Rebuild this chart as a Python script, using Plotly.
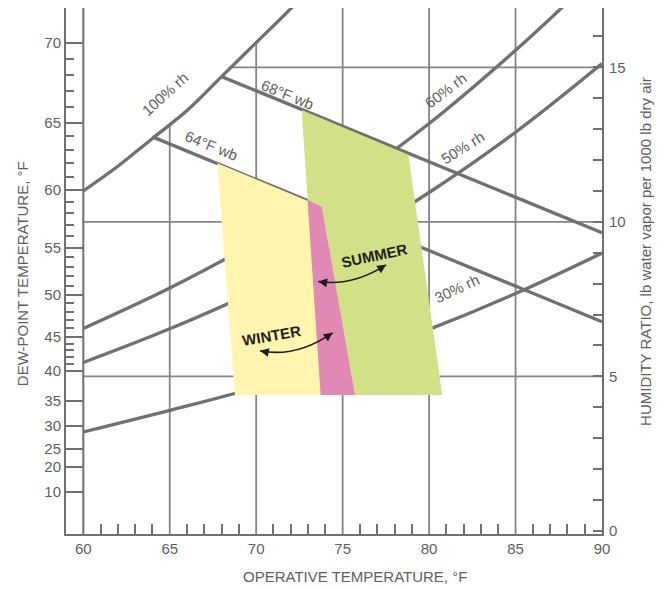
import plotly.graph_objects as go

# ---------------- data ----------------
# x: operative temperature (°F); y: humidity ratio (lb water vapor / 1000 lb dry air)
x_ticks = [60, 65, 70, 75, 80, 85, 90]
hr_ticks = [0, 5, 10, 15]

# dew-point scale (left) : label -> humidity ratio position
dp_labels = ["70", "65", "60", "55", "50", "45", "40", "35", "30", "25", "20", "10"]
dp_hr = [15.79, 13.20, 11.03, 9.16, 7.63, 6.28, 5.18, 4.20, 3.40, 2.65, 2.07, 1.26]

# relative humidity curves
rh100_t = [60, 62, 64, 66, 68, 70, 72, 74]
rh100_w = [11.0, 11.8, 12.7, 13.6, 14.7, 15.8, 16.9, 18.1]
rh60_t = [60, 65, 70, 75, 80, 85, 88]
rh60_w = [6.55, 7.86, 9.36, 11.12, 13.18, 15.55, 17.1]
rh50_t = [60, 65, 70, 75, 80, 85, 90]
rh50_w = [5.45, 6.54, 7.78, 9.24, 10.95, 12.9, 15.12]
rh30_t = [60, 65, 70, 75, 80, 85, 90]
rh30_w = [3.2, 3.9, 4.64, 5.51, 6.52, 7.68, 8.99]

# wet-bulb lines
wb64_t = [64, 90]
wb64_w = [12.75, 6.77]
wb68_t = [68, 90]
wb68_w = [14.7, 9.65]

# grid: vertical lines (top limited by saturation), horizontal lines
vgrid_t = [65, 70, 75, 80, 85]
vgrid_top = [13.2, 15.8, 17.0, 17.0, 17.0]
hgrid_w = [5, 10, 15]
hgrid_start = [60, 60, 68.4]

# comfort zones (operative temp, humidity ratio)
winter_t = [67.75, 73.79, 75.71, 68.77]
winter_w = [11.90, 10.49, 4.40, 4.40]
summer_t = [72.63, 78.80, 80.76, 73.73]
summer_w = [13.62, 12.17, 4.40, 4.40]
overlap_t = [72.97, 73.79, 75.71, 73.73]
overlap_w = [10.71, 10.49, 4.40, 4.40]

X_RANGE = [59.0, 90.0]
Y_RANGE = [-0.1, 16.92]

LINE = "#707072"
GRID = "#858585"
TXT = "#5e5e60"
FONT = "Liberation Sans, Arial, sans-serif"

fig = go.Figure()

# vertical grid lines
vx, vy = [], []
for t, top in zip(vgrid_t, vgrid_top):
    vx += [t, t, None]
    vy += [Y_RANGE[0], top, None]
fig.add_trace(go.Scatter(x=vx, y=vy, mode="lines", line=dict(color=GRID, width=1.8),
                         hoverinfo="skip", showlegend=False))
# horizontal grid lines
hx, hy = [], []
for w, s in zip(hgrid_w, hgrid_start):
    hx += [s, 90, None]
    hy += [w, w, None]
fig.add_trace(go.Scatter(x=hx, y=hy, mode="lines", line=dict(color=GRID, width=1.8),
                         hoverinfo="skip", showlegend=False))
# inner left line at 60 °F
fig.add_trace(go.Scatter(x=[60, 60], y=Y_RANGE, mode="lines", line=dict(color=LINE, width=2),
                         hoverinfo="skip", showlegend=False))

# rh curves
for t, w in [(rh100_t, rh100_w), (rh60_t, rh60_w), (rh50_t, rh50_w), (rh30_t, rh30_w)]:
    fig.add_trace(go.Scatter(x=t, y=w, mode="lines", line=dict(color=LINE, width=3.3, shape="spline"),
                             hoverinfo="skip", showlegend=False))
# wet-bulb lines
for t, w in [(wb64_t, wb64_w), (wb68_t, wb68_w)]:
    fig.add_trace(go.Scatter(x=t, y=w, mode="lines", line=dict(color=LINE, width=3.3),
                             hoverinfo="skip", showlegend=False))

# comfort zones
for t, w, c in [(winter_t, winter_w, "#FFF5AE"), (summer_t, summer_w, "#D2E188"),
                (overlap_t, overlap_w, "#DF89B4")]:
    fig.add_trace(go.Scatter(x=t + [t[0]], y=w + [w[0]], mode="lines", fill="toself",
                             fillcolor=c, line=dict(width=0, color=c),
                             hoverinfo="skip", showlegend=False))

# dummy trace for right axis
fig.add_trace(go.Scatter(x=[X_RANGE[0]], y=[0], yaxis="y2", mode="markers",
                         marker=dict(opacity=0), hoverinfo="skip", showlegend=False))

# curve labels
labels = [
    ("100% rh", 64.75, 14.15, -42),
    ("64°F wb", 67.4, 12.48, 22),
    ("68°F wb", 71.8, 14.12, 22),
    ("60% rh", 80.95, 14.25, -37),
    ("50% rh", 81.95, 12.4, -32),
    ("30% rh", 81.6, 7.85, -25),
]
for txt, x, y, ang in labels:
    fig.add_annotation(x=x, y=y, text=txt, showarrow=False, textangle=ang,
                       font=dict(family=FONT, size=15, color=TXT))

# season labels
fig.add_annotation(x=76.87, y=8.9, text="<b>SUMMER</b>", showarrow=False, textangle=-12,
                   font=dict(family=FONT, size=15, color="#1e1e1e"))
fig.add_annotation(x=70.91, y=6.31, text="<b>WINTER</b>", showarrow=False, textangle=-10,
                   font=dict(family=FONT, size=15, color="#1e1e1e"))

# curved double-headed arrows
arrows = [
    ((73.59, 8.07), (75.53, 7.90), (77.51, 8.61), (8, 1.2), (-6.8, 4.3)),
    ((70.22, 5.83), (72.28, 5.59), (74.42, 6.41), (8, 1.7), (-6.6, 4.6)),
]
for p0, c, p2, a0, a2 in arrows:
    fig.add_shape(type="path", xref="x", yref="y",
                  path=f"M {p0[0]},{p0[1]} Q {c[0]},{c[1]} {p2[0]},{p2[1]}",
                  line=dict(color="#1e1e1e", width=1.6))
    for p, a in [(p0, a0), (p2, a2)]:
        fig.add_annotation(x=p[0], y=p[1], ax=a[0], ay=a[1], text="", showarrow=True,
                           arrowhead=2, arrowsize=1.1, arrowwidth=1.6, arrowcolor="#1e1e1e",
                           standoff=0)

# axis titles
fig.add_annotation(xref="paper", yref="paper", x=-0.082, y=0.494, text="DEW-POINT TEMPERATURE, °F",
                   textangle=-90, showarrow=False, xanchor="center", yanchor="middle",
                   font=dict(family=FONT, size=15, color=TXT))
fig.add_annotation(xref="paper", yref="paper", x=1.080, y=0.538,
                   text="HUMIDITY RATIO, lb water vapor per 1000 lb dry air",
                   textangle=-90, showarrow=False, xanchor="center", yanchor="middle",
                   font=dict(family=FONT, size=15, color=TXT))
fig.add_annotation(xref="paper", yref="paper", x=0.539, y=-0.0817, text="OPERATIVE TEMPERATURE, °F",
                   showarrow=False, xanchor="center", yanchor="middle",
                   font=dict(family=FONT, size=15, color=TXT))

# minor dew-point ticks (between labelled ticks from 40 to 70 °F)
dp_minor = []
for i in range(6):
    hi, lo = dp_hr[i], dp_hr[i + 1]
    for k in range(1, 5):
        dp_minor.append(lo + (hi - lo) * k / 5)

fig.update_layout(
    width=663, height=589,
    margin=dict(l=58, r=69, t=0, b=63),
    paper_bgcolor="white", plot_bgcolor="white",
    showlegend=False,
    xaxis=dict(range=X_RANGE, tickvals=x_ticks, ticks="", showgrid=False, zeroline=False,
               automargin=False,
               showline=True, mirror=True, linecolor=LINE, linewidth=2,
               tickfont=dict(family=FONT, size=15, color=TXT), ticklabelstandoff=0,
               minor=dict(tickmode="array", tickvals=[v for v in range(61, 90) if v % 5],
                          ticks="inside", ticklen=10, tickwidth=1.5,
                          tickcolor=LINE, showgrid=False)),
    yaxis=dict(range=Y_RANGE, tickvals=dp_hr, ticktext=dp_labels, ticks="inside", ticklen=17,
               automargin=False,
               tickwidth=2, tickcolor=LINE, showgrid=False, zeroline=False,
               showline=True, mirror=True, linecolor=LINE, linewidth=2,
               tickfont=dict(family=FONT, size=15, color=TXT), ticklabelstandoff=0,
               minor=dict(tickmode="array", tickvals=dp_minor, ticks="inside", ticklen=8,
                          tickwidth=1.5, tickcolor=LINE, showgrid=False)),
    yaxis2=dict(range=Y_RANGE, overlaying="y", side="right", tickvals=hr_ticks, ticks="inside",
                automargin=False,
                ticklen=9, tickwidth=1.5, tickcolor=LINE, showgrid=False, zeroline=False,
                showline=True, linecolor=LINE, linewidth=2,
                tickfont=dict(family=FONT, size=15, color=TXT), ticklabelstandoff=2,
                minor=dict(dtick=1, tick0=0, ticks="inside", ticklen=9, tickwidth=1.5,
                           tickcolor=LINE, showgrid=False)),
)

fig.write_html("out.html")
